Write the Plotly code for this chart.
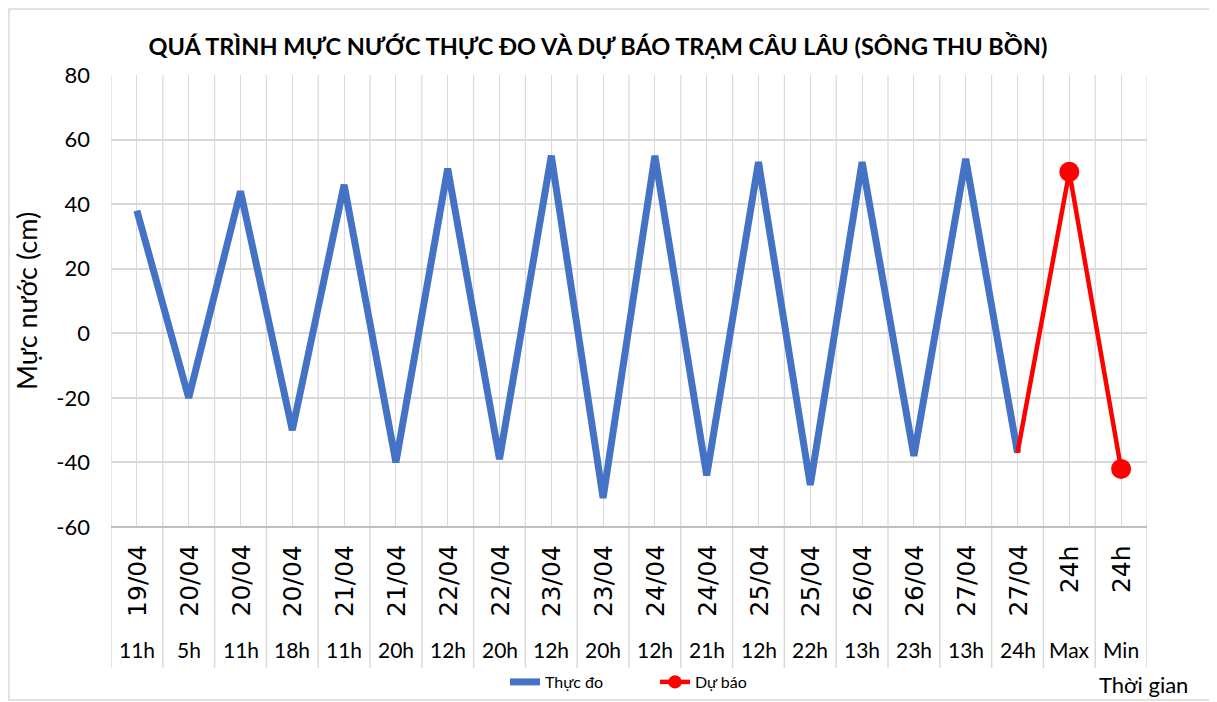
import plotly.graph_objects as go

# category axis: two levels (date / hour)
dates = ["19/04", "20/04", "20/04", "20/04", "21/04", "21/04", "22/04", "22/04", "23/04", "23/04",
         "24/04", "24/04", "25/04", "25/04", "26/04", "26/04", "27/04", "27/04", "24h", "24h"]
hours = ["11h", "5h", "11h", "18h", "11h", "20h", "12h", "20h", "12h", "20h",
         "12h", "21h", "12h", "22h", "13h", "23h", "13h", "24h", "Max", "Min"]

# observed water level (cm), first 18 categories
observed = [38, -20, 44, -30, 46, -40, 51, -39, 55, -51, 55, -44, 53, -47, 53, -38, 54, -37]
# forecast from the last observation to max / min
forecast = [-37, 50, -42]

y_ticks = [-60, -40, -20, 0, 20, 40, 60, 80]
y_ticktext = [str(v) for v in y_ticks]

cats = [f"{d} {h}" for d, h in zip(dates, hours)]
obs_x = cats[:len(observed)]
fc_x = cats[len(observed) - 1:]

FONT = "Lato, Liberation Sans, sans-serif"
GRID = "#d9d9d9"

# the page body adds an 8px margin, so work in page pixels and shift back
OFF = 8
FW, FH = 1217 - OFF, 702 - OFF
L, R, T, B = 111 - OFF, 1147 - OFF, 75 - OFF, 527 - OFF
W, H = R - L, B - T


def px(x):
    return (x - OFF - L) / W


def py(y):
    return (B - (y - OFF)) / H


fig = go.Figure()
fig.add_trace(go.Scatter(x=obs_x, y=observed, name="Thực đo", mode="lines",
                         line=dict(color="#4472C4", width=7)))
fig.add_trace(go.Scatter(x=fc_x, y=forecast, name="Dự báo", mode="lines+markers",
                         line=dict(color="#FF0000", width=4.5),
                         marker=dict(color="#FF0000", size=[0, 20, 20], opacity=1,
                                     line=dict(width=0))))

# category labels under the axis
for i, (d, h) in enumerate(zip(dates, hours)):
    fig.add_annotation(x=cats[i], y=py(543), xref="x", yref="paper", text=d,
                       textangle=-90, showarrow=False, yanchor="top",
                       font=dict(family="DejaVu Sans", size=25, color="#000"))
    fig.add_annotation(x=cats[i], y=py(649), xref="x", yref="paper", text=h,
                       showarrow=False, yanchor="middle",
                       font=dict(family=FONT, size=21, color="#000"))

# dividers between categories in the label area + half-category gridlines
for i in range(len(cats) + 1):
    fig.add_shape(type="line", xref="x", yref="paper", x0=i - 0.5, x1=i - 0.5,
                  y0=py(668), y1=0, line=dict(color=GRID, width=1.5))
    fig.add_shape(type="line", xref="x", yref="paper", x0=i - 0.5, x1=i - 0.5,
                  y0=0, y1=1, line=dict(color=GRID, width=1.2), layer="below")

fig.add_annotation(x=px(1143), y=py(684), xref="paper", yref="paper", text="Thời gian",
                   showarrow=False, yanchor="middle", xanchor="center",
                   font=dict(family=FONT, size=22, color="#000"))

fig.update_layout(
    width=FW, height=FH,
    paper_bgcolor="white", plot_bgcolor="white",
    margin=dict(l=L, r=FW - R, t=T, b=FH - B, autoexpand=False),
    title=dict(text="<b>QUÁ TRÌNH MỰC NƯỚC THỰC ĐO VÀ DỰ BÁO TRẠM CÂU LÂU (SÔNG THU BỒN)</b>",
               x=px(598), xref="paper", xanchor="center", y=1 - (47 - OFF) / FH, yanchor="middle",
               font=dict(family=FONT, size=23.5, color="#000")),
    font=dict(family=FONT, color="#000"),
    showlegend=True,
    legend=dict(orientation="h", x=px(505), xanchor="left", y=py(682), yanchor="middle",
                font=dict(family=FONT, size=16, color="#000"), entrywidth=105,
                bgcolor="rgba(0,0,0,0)"),
)

fig.update_xaxes(type="category", categoryarray=cats, range=[-0.5, len(cats) - 0.5],
                 showticklabels=False, showgrid=True, gridcolor=GRID, gridwidth=1.2,
                 showline=False, zeroline=False, ticks="", automargin=False)
fig.update_yaxes(range=[-60, 80], tickvals=y_ticks, ticktext=y_ticktext,
                 showgrid=True, gridcolor=GRID, gridwidth=1.5,
                 zeroline=False, showline=False, ticks="", ticklabelstandoff=20,
                 automargin=False,
                 tickfont=dict(family=FONT, size=22, color="#000"),
                 title=dict(text="Mực nước (cm)", font=dict(family=FONT, size=27, color="#000"),
                            standoff=10))

# frame around the chart and axis baseline
fig.add_shape(type="rect", xref="paper", yref="paper", x0=px(9), x1=px(1212), y0=py(700), y1=py(9),
              line=dict(color=GRID, width=1.5))
fig.add_shape(type="line", xref="paper", yref="paper", x0=0, x1=1, y0=0, y1=0,
              line=dict(color="#bfbfbf", width=2))

fig.write_html("out.html")
